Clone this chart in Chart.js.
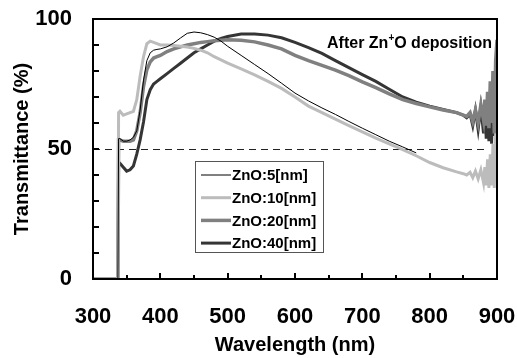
<!DOCTYPE html>
<html><head><meta charset="utf-8">
<script src="https://cdn.jsdelivr.net/npm/chart.js@4/dist/chart.umd.min.js"></script>
<style>html,body{margin:0;padding:0;background:#fff}#wrap{width:517px;height:358px;position:relative}</style>
</head><body><div id="wrap"><canvas id="c" width="517" height="358"></canvas></div>
<script>
const wavelengths = [300,337,338,340,345,350,355,360,365,370,375,380,385,390,395,400,410,420,430,440,450,460,470,480,490,500,520,540,560,580,600,620,640,660,680,700,720,740,760,780,800,820,840,850,855,860,864,868,872,876,880,882,884,886,888,890,892,894,896,898,900];
const zno5 = [0,0,54,54,53,53,53.5,54.5,57,65,76.5,84,87,88,88.3,88.5,89.3,90.8,92.7,94.5,95,94.7,94,93,91.5,89.5,86,82.5,79,75.3,71.5,68.5,65.8,63.3,60.6,58,55.5,53,50.8,48.5,null,null,null,null,null,null,null,null,null,null,null,null,null,null,null,null,null,null,null,null,null];
const zno10 = [0,0,64,64.5,63,63.5,64,64.5,69,78,85.5,90.5,91.5,91,90.5,90,90,89.8,89.5,89.2,88.7,88,87,85.5,84.3,83,80.8,78.5,76,73.3,70,66.5,64,61.5,59,56.6,54.2,52,49.8,47.4,44.8,42.8,41.2,40.5,40,41,39,41.5,38.5,42,37,43,36,46,35,48,36,52,35,56,42];
const zno20 = [0,0,53.5,53.5,53,53,53,53.5,57,64,74,80.5,83.5,85,85.5,86,87.5,88.5,89.3,90,90.5,91,91.3,91.6,91.8,92,91.8,91.2,90,88.5,86,84,82.2,80.3,78.2,75.8,73.6,71.2,69,67.5,66.2,65,64,63,62.5,64,60.5,65,60,67,61,69,59,72,58,76,60,80,56,84,92];
const zno40 = [0,0,44.5,44.5,43,41.5,42,43.5,48,53.5,60.4,69,72.8,75,76,77,79,81,83,85,87,88.5,90,91.5,92.5,93.3,94.2,94.2,93.8,92.8,91,89,86.8,84,81.3,78.6,76,73,70,68,66.5,65.2,64,63,62,63.5,59,65,57.5,66,56,67,54,69,53,71,52,74,55,83,68];
const seriesLabels = ['ZnO:5[nm]','ZnO:10[nm]','ZnO:20[nm]','ZnO:40[nm]'];
const xTickLabels = [300,400,500,600,700,800,900];
const yTickLabels = [0,50,100];

const FONT = '"Liberation Sans", Arial, Helvetica, sans-serif';
const toPts = arr => wavelengths.map((w,i)=>({x:w,y:arr[i]}));

const decor = {
  id:'decor',
  beforeDatasetsDraw(chart){
    const {ctx, chartArea:a, scales:{x,y}} = chart;
    ctx.save();
    ctx.strokeStyle='#222'; ctx.lineWidth=1; ctx.setLineDash([7,5]);
    const yy = Math.round(y.getPixelForValue(50))+0.5;
    ctx.beginPath(); ctx.moveTo(a.left,yy); ctx.lineTo(x.getPixelForValue(884),yy); ctx.stroke();
    ctx.restore();
  },
  afterDraw(chart){
    const {ctx, chartArea:a, scales:{x,y}} = chart;
    ctx.save();
    ctx.strokeStyle='#000'; ctx.lineWidth=2;
    ctx.strokeRect(a.left,a.top,a.right-a.left,a.bottom-a.top);
    ctx.beginPath();
    for(let v=10; v<100; v+=10){ const p=Math.round(y.getPixelForValue(v)); ctx.moveTo(a.left,p); ctx.lineTo(a.left+6,p); }
    for(let v=350; v<900; v+=50){ const p=Math.round(x.getPixelForValue(v)); const len = v%100===0?6:4; ctx.moveTo(p,a.bottom); ctx.lineTo(p,a.bottom-len); }
    ctx.stroke();
    // annotation
    ctx.fillStyle='#000'; ctx.textBaseline='alphabetic'; ctx.textAlign='left';
    const f1='bold 16px '+FONT, f2='bold 10px '+FONT;
    ctx.font=f1; const w1=ctx.measureText('After Zn').width, w3=ctx.measureText('O deposition').width;
    ctx.font=f2; const w2=ctx.measureText('+').width;
    let sx = 492-(w1+w2+w3), by=48;
    ctx.font=f1; ctx.fillText('After Zn',sx,by);
    ctx.font=f2; ctx.fillText('+',sx+w1,by-7);
    ctx.font=f1; ctx.fillText('O deposition',sx+w1+w2,by);
    // legend
    const lx=195.5, ly=161.5, lw=128, lh=91;
    ctx.fillStyle='#fff'; ctx.fillRect(lx,ly,lw,lh);
    ctx.strokeStyle='#555'; ctx.lineWidth=1; ctx.strokeRect(lx,ly,lw,lh);
    ctx.font='bold 15px '+FONT; ctx.textBaseline='middle';
    chart.data.datasets.forEach((ds,i)=>{
      const ry = 175 + i*22.7;
      ctx.strokeStyle=ds.borderColor; ctx.lineWidth=ds.borderWidth;
      ctx.beginPath(); ctx.moveTo(201,ry); ctx.lineTo(231,ry); ctx.stroke();
      ctx.fillStyle='#000'; ctx.fillText(ds.label,232,ry+1);
    });
    ctx.restore();
  }
};

const colors = ['#000000','#bcbcbc','#808080','#353535'];
const widths = [1,3,3.5,3];
const series = [zno5,zno10,zno20,zno40];

new Chart(document.getElementById('c'),{
  type:'line',
  data:{datasets: series.map((s,i)=>({label:seriesLabels[i], data:toPts(s), borderColor:colors[i], borderWidth:widths[i], pointRadius:0, tension:0, fill:false, spanGaps:false}))},
  options:{
    responsive:false, animation:false, devicePixelRatio:1,
    layout:{padding:{top:19,right:20,left:0,bottom:0}},
    plugins:{legend:{display:false}, tooltip:{enabled:false}},
    scales:{
      x:{type:'linear', min:300, max:900,
        afterBuildTicks(s){ s.ticks = xTickLabels.map(v=>({value:v})); },
        afterFit(s){ s.height=79; s.paddingLeft=0; s.paddingRight=0; },
        grid:{display:false, drawTicks:false}, border:{display:false},
        ticks:{font:{family:FONT,size:22,weight:'bold'}, color:'#000', padding:25, maxRotation:0, autoSkip:false},
        title:{display:true, text:'Wavelength (nm)', color:'#000', font:{family:FONT,size:20,weight:'bold'}, padding:{top:0,bottom:1}}
      },
      y:{min:0, max:100,
        afterBuildTicks(s){ s.ticks = yTickLabels.map(v=>({value:v})); },
        afterFit(s){ s.width=93; s.paddingTop=0; s.paddingBottom=0; },
        grid:{display:false, drawTicks:false}, border:{display:false},
        ticks:{font:{family:FONT,size:22,weight:'bold'}, color:'#000', padding:21},
        title:{display:true, text:'Transmittance (%)', color:'#000', font:{family:FONT,size:20,weight:'bold'}, padding:{top:10,bottom:0}}
      }
    }
  },
  plugins:[decor]
});
</script></body></html>
